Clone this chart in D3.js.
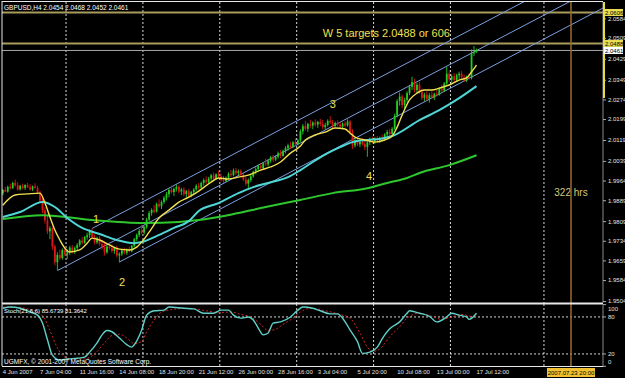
<!DOCTYPE html>
<html>
<head>
<meta charset="utf-8">
<script src="https://cdn.jsdelivr.net/npm/d3@7"></script>
<style>
body { margin: 0; background: #000; }
svg { display: block; font-family: "Liberation Sans", Arial, sans-serif; }
</style>
</head>
<body>
<script>
// GBPUSD H4 candles, prices in pips above 1.0000 (9930 = 1.9930), [open, high, low, close]
const ohlc = [
[9915,9932,9908,9928],[9928,9940,9920,9922],[9922,9945,9918,9940],[9940,9952,9930,9935],[9935,9960,9932,9955],
[9955,9968,9940,9946],[9946,9958,9925,9930],[9930,9948,9926,9944],[9944,9952,9930,9936],[9936,9950,9928,9947],
[9947,9955,9935,9938],[9938,9950,9926,9930],[9930,9945,9924,9942],[9942,9954,9934,9936],[9936,9944,9912,9918],
[9918,9925,9880,9888],[9888,9895,9840,9850],[9850,9862,9800,9812],[9812,9830,9760,9770],[9770,9790,9740,9782],
[9782,9788,9700,9712],[9712,9720,9640,9652],[9652,9690,9622,9680],[9680,9700,9660,9668],[9668,9705,9662,9698],
[9698,9712,9675,9682],[9682,9700,9665,9690],[9690,9715,9680,9708],[9708,9718,9685,9692],[9692,9712,9684,9706],
[9706,9725,9695,9718],[9718,9740,9710,9735],[9735,9748,9720,9726],[9726,9752,9722,9748],[9748,9765,9738,9755],
[9755,9778,9745,9770],[9770,9782,9742,9748],[9748,9758,9720,9728],[9728,9750,9722,9745],[9745,9752,9715,9722],
[9722,9735,9700,9710],[9710,9730,9678,9690],[9690,9718,9684,9712],[9712,9728,9700,9706],[9706,9720,9688,9695],
[9695,9712,9684,9708],[9708,9715,9670,9678],[9678,9690,9652,9684],[9684,9702,9676,9698],[9698,9708,9682,9688],
[9688,9705,9680,9700],[9700,9712,9690,9694],[9694,9718,9690,9715],[9715,9745,9710,9740],[9740,9762,9732,9756],
[9756,9780,9748,9772],[9772,9795,9760,9765],[9765,9790,9758,9786],[9786,9822,9780,9815],[9815,9848,9808,9840],
[9840,9858,9830,9852],[9852,9870,9838,9845],[9845,9880,9842,9874],[9874,9892,9860,9866],[9866,9888,9855,9882],
[9882,9905,9875,9898],[9898,9920,9888,9912],[9912,9935,9900,9928],[9928,9945,9915,9920],[9920,9938,9905,9932],
[9932,9948,9922,9940],[9940,9946,9915,9922],[9922,9936,9908,9930],[9930,9938,9905,9912],[9912,9928,9900,9924],
[9924,9932,9898,9906],[9906,9925,9900,9920],[9920,9935,9912,9930],[9930,9950,9925,9944],[9944,9955,9930,9938],
[9938,9960,9932,9955],[9955,9972,9945,9966],[9966,9980,9950,9958],[9958,9978,9952,9972],[9972,9990,9962,9984],
[9984,9995,9965,9970],[9970,9992,9966,9988],[9988,10002,9975,9980],[9980,9990,9960,9966],[9966,9982,9955,9962],
[9962,9980,9958,9975],[9975,9996,9970,9990],[9990,10004,9978,9985],[9985,10010,9980,10002],[10002,10012,9985,9992],
[9992,10006,9984,10000],[10000,10008,9980,9986],[9986,9995,9962,9968],[9968,9978,9945,9952],[9952,9972,9935,9966],
[9966,9985,9958,9980],[9980,10002,9975,9998],[9998,10015,9988,10008],[10008,10025,9998,10020],[10020,10030,10005,10012],
[10012,10035,10008,10030],[10030,10048,10020,10026],[10026,10045,10018,10040],[10040,10058,10032,10052],[10052,10062,10035,10044],
[10044,10060,10038,10055],[10055,10075,10048,10068],[10068,10080,10050,10058],[10058,10082,10055,10078],[10078,10095,10068,10088],
[10088,10105,10078,10098],[10098,10112,10085,10092],[10092,10115,10088,10110],[10110,10125,10095,10104],[10104,10122,10098,10118],
[10118,10160,10112,10152],[10152,10180,10140,10172],[10172,10192,10155,10162],[10162,10185,10150,10180],[10180,10196,10165,10174],
[10174,10190,10160,10186],[10186,10198,10170,10178],[10178,10192,10165,10188],[10188,10200,10172,10180],[10180,10195,10160,10168],
[10168,10185,10158,10176],[10176,10198,10170,10192],[10192,10210,10180,10186],[10186,10196,10165,10172],[10172,10190,10168,10184],
[10184,10195,10170,10178],[10178,10188,10162,10170],[10170,10186,10164,10182],[10182,10190,10168,10175],[10175,10198,10170,10190],
[10190,10195,10140,10148],[10148,10160,10085,10098],[10098,10125,10090,10118],[10118,10130,10095,10102],[10102,10120,10092,10112],
[10112,10125,10098,10104],[10104,10115,10080,10092],[10092,10118,10055,10110],[10110,10128,10100,10120],[10120,10132,10105,10112],
[10112,10130,10104,10124],[10124,10135,10110,10118],[10118,10132,10108,10128],[10128,10140,10115,10122],[10122,10145,10118,10140],
[10140,10158,10130,10150],[10150,10162,10135,10142],[10142,10168,10138,10162],[10162,10220,10158,10212],[10212,10275,10205,10268],
[10268,10300,10250,10285],[10285,10292,10240,10252],[10252,10280,10238,10272],[10272,10305,10262,10298],[10298,10330,10290,10322],
[10322,10360,10310,10340],[10340,10352,10300,10310],[10310,10338,10298,10330],[10330,10342,10295,10302],[10302,10315,10272,10280],
[10280,10300,10268,10292],[10292,10305,10270,10276],[10276,10298,10262,10290],[10290,10305,10275,10282],[10282,10300,10272,10296],
[10296,10310,10285,10292],[10292,10320,10288,10315],[10315,10330,10300,10308],[10308,10340,10302,10335],[10335,10398,10330,10372],
[10372,10385,10340,10350],[10350,10370,10335,10362],[10362,10375,10340,10348],[10348,10372,10342,10366],[10366,10380,10352,10372],
[10372,10382,10350,10358],[10358,10368,10340,10346],[10346,10365,10340,10360],[10360,10372,10350,10356],[10356,10465,10350,10450],
[10450,10478,10440,10454],[10454,10468,10452,10461]
];

// moving averages: [bar, price in pips]
const maFast = [[0,9870],[5,9909],[10,9913],[15,9916],[17,9878],[19,9825],[21,9775],[23,9737],[25,9706],[27,9691],
  [31,9699],[34,9725],[36,9744],[39,9737],[43,9718],[47,9702],[51,9699],[54,9710],[56,9729],[59,9767],[63,9821],
  [67,9851],[71,9882],[75,9901],[79,9924],[84,9958],[87,9974],[91,9970],[95,9977],[99,9985],[104,10004],[108,10016],
  [112,10035],[116,10069],[120,10096],[122,10119],[126,10138],[130,10149],[134,10165],[138,10161],[140,10146],
  [142,10130],[146,10119],[150,10111],[154,10119],[157,10134],[159,10168],[161,10214],[164,10272],[167,10298],
  [170,10310],[173,10310],[176,10317],[180,10329],[184,10348],[187,10356],[189,10379],[191,10405]];
const maMid = [[0,9825],[7,9844],[16,9882],[21,9863],[26,9821],[32,9783],[39,9760],[46,9737],[53,9725],[56,9729],
  [62,9752],[69,9783],[75,9809],[79,9848],[87,9878],[95,9916],[101,9939],[107,9955],[115,9977],[120,10004],
  [125,10035],[131,10069],[136,10092],[141,10111],[147,10119],[152,10123],[157,10134],[168,10195],[176,10233],
  [184,10279],[191,10325]];
const maSlow = [[0,9817],[16,9832],[36,9813],[57,9802],[71,9806],[79,9813],[93,9836],[106,9863],[120,9890],
  [133,9916],[147,9935],[155,9955],[163,9974],[168,9993],[180,10023],[191,10061]];

// Stochastic(21,6,6): [bar, value]
const stochMain = [[0,94],[3,96],[7,94],[11,88],[14,83],[16,70],[18,43],[20,18],[23,10],[26,12],[30,13],[33,15],
  [35,23],[38,38],[40,51],[42,58],[44,56],[47,46],[50,35],[52,31],[53,35],[56,59],[58,83],[61,90],[65,91],[67,96],
  [73,94],[77,93],[81,86],[85,86],[88,91],[91,91],[93,83],[96,78],[99,80],[101,75],[103,62],[105,51],[107,54],
  [109,70],[112,72],[116,80],[119,91],[121,96],[125,94],[128,90],[132,85],[135,85],[137,78],[140,59],[143,40],
  [145,21],[148,23],[151,31],[153,45],[156,61],[160,72],[163,86],[164,90],[168,86],[172,81],[175,72],[179,80],
  [181,86],[184,83],[187,80],[188,76],[191,86]];
const stochSignal = [[0,96],[7,95],[11,92],[14,88],[17,76],[19,58],[22,30],[24,18],[27,12],[33,12],[37,20],[41,38],
  [44,50],[47,52],[50,46],[53,37],[56,40],[58,56],[61,75],[64,88],[68,92],[75,94],[82,90],[87,87],[92,88],[96,84],
  [100,80],[104,68],[107,58],[110,60],[113,68],[117,78],[120,88],[124,94],[130,90],[136,84],[140,78],[144,54],
  [147,31],[149,24],[152,28],[156,48],[160,64],[163,78],[168,86],[173,81],[177,76],[181,80],[185,84],[189,81],[191,81]];

// axis labels
const priceTicks = [10584,10509,10429,10349,10274,10199,10119,10039,9964,9889,9809,9734,9659,9584,9504];
const stochTicks = [100,80,20,0];
const timeLabels = [[0,"4 Jun 2007"],[15,"7 Jun 04:00"],[31,"11 Jun 16:00"],[47,"14 Jun 08:00"],[63,"18 Jun 20:00"],
  [79,"21 Jun 12:00"],[95,"26 Jun 00:00"],[111,"28 Jun 16:00"],[127,"3 Jul 04:00"],[143,"5 Jul 20:00"],
  [159,"10 Jul 08:00"],[175,"13 Jul 00:00"],[191,"17 Jul 12:00"]];
const gridBars = [25.5,56.5,87.5,118.5,149.5,180.5,218.2];

// drawn objects
const hLines = [[10606,"#a89c5c",2,"#e8dc50"],[10488,"#a89c5c",2,"#e8dc50"],[10461,"#a8a8a8",1,"#ffffff"]];
const forkPoints = [[22,9620],[36,9781],[47,9653]];
const vLineBar = 229.1;
const vLineLabel = "2007.07.23 20:00";
const notes = [[129,10514,"W 5 targets 2.0488 or 606","start"],[37.6,9802,"1","middle"],[48.1,9561,"2","middle"],
  [133.1,10241,"3","middle"],[147.7,9966,"4","middle"]];

const W = 625, H = 378;
const svg = d3.select("body").append("svg").attr("width", W).attr("height", H).style("background", "#000");

const x = d3.scaleLinear().domain([0, 191]).range([2.8, 476.5]);
const y = d3.scaleLinear().domain([9504, 10606]).range([301, 12.5]);
const ys = d3.scaleLinear().domain([0, 100]).range([366.3, 304.6]);
const fmt = v => (1 + v / 10000).toFixed(4);

const defs = svg.append("defs");
defs.append("clipPath").attr("id", "mainClip").append("rect").attr("x", 2).attr("y", 2).attr("width", 601).attr("height", 301);
defs.append("clipPath").attr("id", "stochClip").append("rect").attr("x", 2).attr("y", 304).attr("width", 601).attr("height", 62);

const main = svg.append("g").attr("clip-path", "url(#mainClip)");
const sub = svg.append("g").attr("clip-path", "url(#stochClip)");

// grid
main.selectAll(".vg").data(gridBars).enter().append("line")
    .attr("x1", d => x(d)).attr("x2", d => x(d)).attr("y1", 2).attr("y2", 303)
    .attr("stroke", "#d8d8d8").attr("stroke-dasharray", "2,2");
sub.selectAll(".vg").data(gridBars).enter().append("line")
    .attr("x1", d => x(d)).attr("x2", d => x(d)).attr("y1", 304).attr("y2", 366)
    .attr("stroke", "#d8d8d8").attr("stroke-dasharray", "2,2");
sub.selectAll(".hg").data([80, 20]).enter().append("line")
    .attr("x1", 2).attr("x2", 603).attr("y1", d => ys(d)).attr("y2", d => ys(d))
    .attr("stroke", "#d8d8d8").attr("stroke-dasharray", "2,2");

// horizontal price lines
main.selectAll(".hl").data(hLines).enter().append("line")
    .attr("x1", 2).attr("x2", 603).attr("y1", d => y(d[0])).attr("y2", d => y(d[0]))
    .attr("stroke", d => d[1]).attr("stroke-width", d => d[2]);

// vertical line
svg.append("line").attr("x1", x(vLineBar)).attr("x2", x(vLineBar)).attr("y1", 2).attr("y2", 366)
    .attr("stroke", "#9a6a34").attr("stroke-width", 1.5);

// pitchfork
const fp = forkPoints.map(p => [x(p[0]), y(p[1])]);
const mid = [(fp[1][0] + fp[2][0]) / 2, (fp[1][1] + fp[2][1]) / 2];
const dir = [mid[0] - fp[0][0], mid[1] - fp[0][1]];
const ext = 20;
fp.forEach(p => {
    main.append("line").attr("x1", p[0]).attr("y1", p[1])
        .attr("x2", p[0] + dir[0] * ext).attr("y2", p[1] + dir[1] * ext)
        .attr("stroke", "#7c9fe0").attr("stroke-width", 1);
});

// candles
const candles = main.append("g");
ohlc.forEach((d, i) => {
    const up = d[3] >= d[0];
    const col = up ? "#22cc22" : "#dd1515";
    candles.append("line").attr("x1", x(i)).attr("x2", x(i)).attr("y1", y(d[1])).attr("y2", y(d[2]))
        .attr("stroke", col).attr("stroke-width", 0.9);
    const top = y(Math.max(d[0], d[3])), bot = y(Math.min(d[0], d[3]));
    candles.append("rect").attr("x", x(i) - 0.9).attr("width", 1.8)
        .attr("y", top).attr("height", Math.max(bot - top, 0.8)).attr("fill", col);
});

// moving averages
const maLine = d3.line().x(d => x(d[0])).y(d => y(d[1])).curve(d3.curveMonotoneX);
main.append("path").datum(maSlow).attr("d", maLine).attr("fill", "none").attr("stroke", "#2ec82e").attr("stroke-width", 2);
main.append("path").datum(maMid).attr("d", maLine).attr("fill", "none").attr("stroke", "#4fd6d6").attr("stroke-width", 2);
main.append("path").datum(maFast).attr("d", maLine).attr("fill", "none").attr("stroke", "#f0e050").attr("stroke-width", 1.4);

// stochastic
const stLine = d3.line().x(d => x(d[0])).y(d => ys(d[1])).curve(d3.curveMonotoneX);
sub.append("path").datum(stochSignal).attr("d", stLine).attr("fill", "none")
    .attr("stroke", "#d02828").attr("stroke-width", 1).attr("stroke-dasharray", "2,2");
sub.append("path").datum(stochMain).attr("d", stLine).attr("fill", "none")
    .attr("stroke", "#5fd0c8").attr("stroke-width", 1.4);

// notes
main.selectAll(".note").data(notes).enter().append("text")
    .attr("x", d => x(d[0])).attr("y", d => y(d[1])).attr("text-anchor", d => d[3])
    .attr("fill", "#f0e050").attr("font-size", 11).text(d => d[2]);
main.append("text").attr("x", x(vLineBar)).attr("y", 196).attr("text-anchor", "middle")
    .attr("fill", "#d8c878").attr("font-size", 10).text("322 hrs");

// frames
const frame = svg.append("g").attr("stroke", "#e8e8e8");
frame.append("line").attr("x1", 2).attr("x2", 2).attr("y1", 1).attr("y2", 366);
frame.append("line").attr("x1", 2).attr("x2", 603).attr("y1", 1.5).attr("y2", 1.5);
frame.append("line").attr("x1", 2).attr("x2", 603).attr("y1", 303.5).attr("y2", 303.5).attr("stroke-width", 2);
frame.append("line").attr("x1", 2).attr("x2", 603).attr("y1", 366.5).attr("y2", 366.5);

// right price axis
const axisG = svg.append("g").attr("transform", "translate(603,0)");
axisG.call(d3.axisRight(y).tickValues(priceTicks).tickFormat(fmt).tickSize(3).tickPadding(2));
axisG.select(".domain").attr("stroke", "#888").attr("d", "M0,2V303");
axisG.selectAll(".tick line").attr("stroke", "#aaa");
axisG.selectAll("text").attr("fill", "#e0e0e0").attr("font-size", 6).attr("font-family", "Liberation Sans, Arial");
svg.append("line").attr("x1", 604).attr("x2", 604).attr("y1", 2).attr("y2", 98)
    .attr("stroke", "#e8dc40").attr("stroke-width", 2);

// price label boxes
hLines.forEach(d => {
    svg.append("rect").attr("x", 604).attr("y", y(d[0]) - 3.5).attr("width", 19).attr("height", 7).attr("fill", d[3]);
    svg.append("text").attr("x", 605).attr("y", y(d[0]) + 2.3).attr("fill", "#000").attr("font-size", 6)
        .text(fmt(d[0]));
});

// stochastic axis
const sAxis = svg.append("g").attr("transform", "translate(603,0)");
sAxis.append("line").attr("x1", 0).attr("x2", 0).attr("y1", 304).attr("y2", 366).attr("stroke", "#888");
stochTicks.forEach(v => {
    const yy = Math.min(Math.max(ys(v), 309), 362);
    sAxis.append("line").attr("x1", 0).attr("x2", 3).attr("y1", ys(v)).attr("y2", ys(v)).attr("stroke", "#aaa");
    sAxis.append("text").attr("x", 5).attr("y", yy + 2).attr("fill", "#e0e0e0").attr("font-size", 6).text(v);
});

// time axis
svg.selectAll(".tl").data(timeLabels).enter().append("text")
    .attr("x", d => x(d[0])).attr("y", 374).attr("fill", "#e0e0e0").attr("font-size", 6).text(d => d[1]);
svg.append("rect").attr("x", x(vLineBar) - 24).attr("y", 368).attr("width", 48).attr("height", 9).attr("fill", "#f0c030");
svg.append("text").attr("x", x(vLineBar)).attr("y", 375).attr("text-anchor", "middle").attr("fill", "#000")
    .attr("font-size", 6).text(vLineLabel);

// captions
svg.append("text").attr("x", 4).attr("y", 9.5).attr("fill", "#fff").attr("font-size", 6.5)
    .text("GBPUSD,H4 2.0454 2.0468 2.0452 2.0461");
svg.append("text").attr("x", 4).attr("y", 313).attr("fill", "#fff").attr("font-size", 6)
    .text("Stoch(21,6,6) 85.6739 81.3642");
svg.append("text").attr("x", 4).attr("y", 364).attr("fill", "#fff").attr("font-size", 6.5)
    .text("UGMFX, © 2001-2007 MetaQuotes Software Corp.");
</script>
</body>
</html>
